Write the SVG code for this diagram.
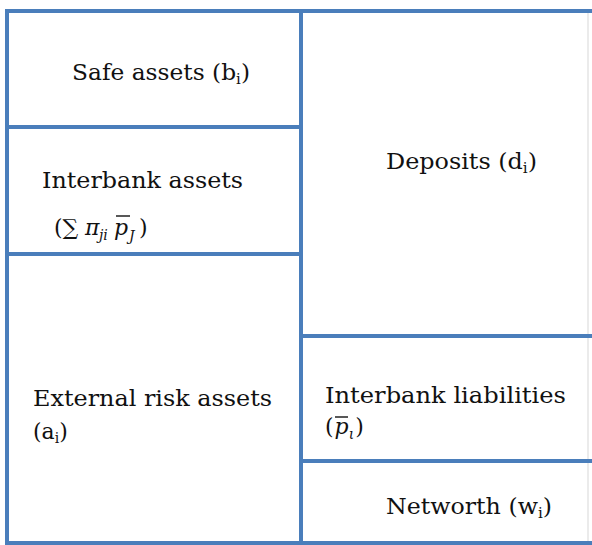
<svg xmlns="http://www.w3.org/2000/svg" width="592" height="545" viewBox="0 0 592 545">
<style>
.b{stroke:#4a7ebb;stroke-width:4;fill:none}
.t{font-family:"DejaVu Serif","Liberation Serif",serif;font-size:22px;fill:#111111}
.m{font-family:"DejaVu Serif","Liberation Serif",serif;font-style:italic;font-size:22px;fill:#111111}
.s{font-size:14px}
.ob{stroke:#111111;stroke-width:1.4}
</style>
<rect width="592" height="545" fill="#ffffff"/>
<line x1="588" y1="12" x2="588" y2="543" stroke="#e4e4e4" stroke-width="1.5"/>
<g id="connectors">
<path class="b" d="M7 543 V11 H592"/>
<line class="b" x1="301" y1="11" x2="301" y2="543"/>
<line class="b" x1="5" y1="543" x2="592" y2="543"/>
</g>
<g id="safe">
<line class="b" x1="7" y1="127" x2="301" y2="127"/>
<text class="t" x="72" y="80" textLength="178" lengthAdjust="spacingAndGlyphs">Safe assets (b<tspan class="s" dy="4">i</tspan><tspan dy="-4">)</tspan></text>
</g>
<g id="interbank-assets">
<line class="b" x1="7" y1="254" x2="301" y2="254"/>
<text class="t" x="54" y="235">(∑</text>
<text class="m" x="85" y="235">π</text>
<text class="m s" x="99" y="240">ji</text>
<text class="m" x="114" y="235">p</text>
<line class="ob" x1="116" y1="216" x2="130" y2="216"/>
<text class="m s" x="129" y="241">J</text>
<text class="t" x="139" y="235">)</text>
<text class="t" x="42" y="188" textLength="201" lengthAdjust="spacingAndGlyphs">Interbank assets</text>
</g>
<g id="external">
<text class="t" x="33" y="406" textLength="239" lengthAdjust="spacingAndGlyphs">External risk assets</text>
<text class="t" x="33" y="439">(a<tspan class="s" dy="4">i</tspan><tspan dy="-4">)</tspan></text>
</g>
<g id="deposits">
<text class="t" x="386" y="169" textLength="151" lengthAdjust="spacingAndGlyphs">Deposits (d<tspan class="s" dy="4">i</tspan><tspan dy="-4">)</tspan></text>
</g>
<g id="interbank-liabilities">
<line class="b" x1="301" y1="336" x2="592" y2="336"/>
<text class="t" x="325" y="403" textLength="241" lengthAdjust="spacingAndGlyphs">Interbank liabilities</text>
<text class="t" x="325" y="434">(<tspan class="m" dx="1">p</tspan><tspan class="m s" dy="5">ι</tspan><tspan dy="-5" dx="1">)</tspan></text>
<line class="ob" x1="335" y1="417" x2="348" y2="417"/>
</g>
<g id="networth">
<line class="b" x1="301" y1="461" x2="592" y2="461"/>
<text class="t" x="386" y="514" textLength="166" lengthAdjust="spacingAndGlyphs">Networth (w<tspan class="s" dy="4">i</tspan><tspan dy="-4">)</tspan></text>
</g>
</svg>
